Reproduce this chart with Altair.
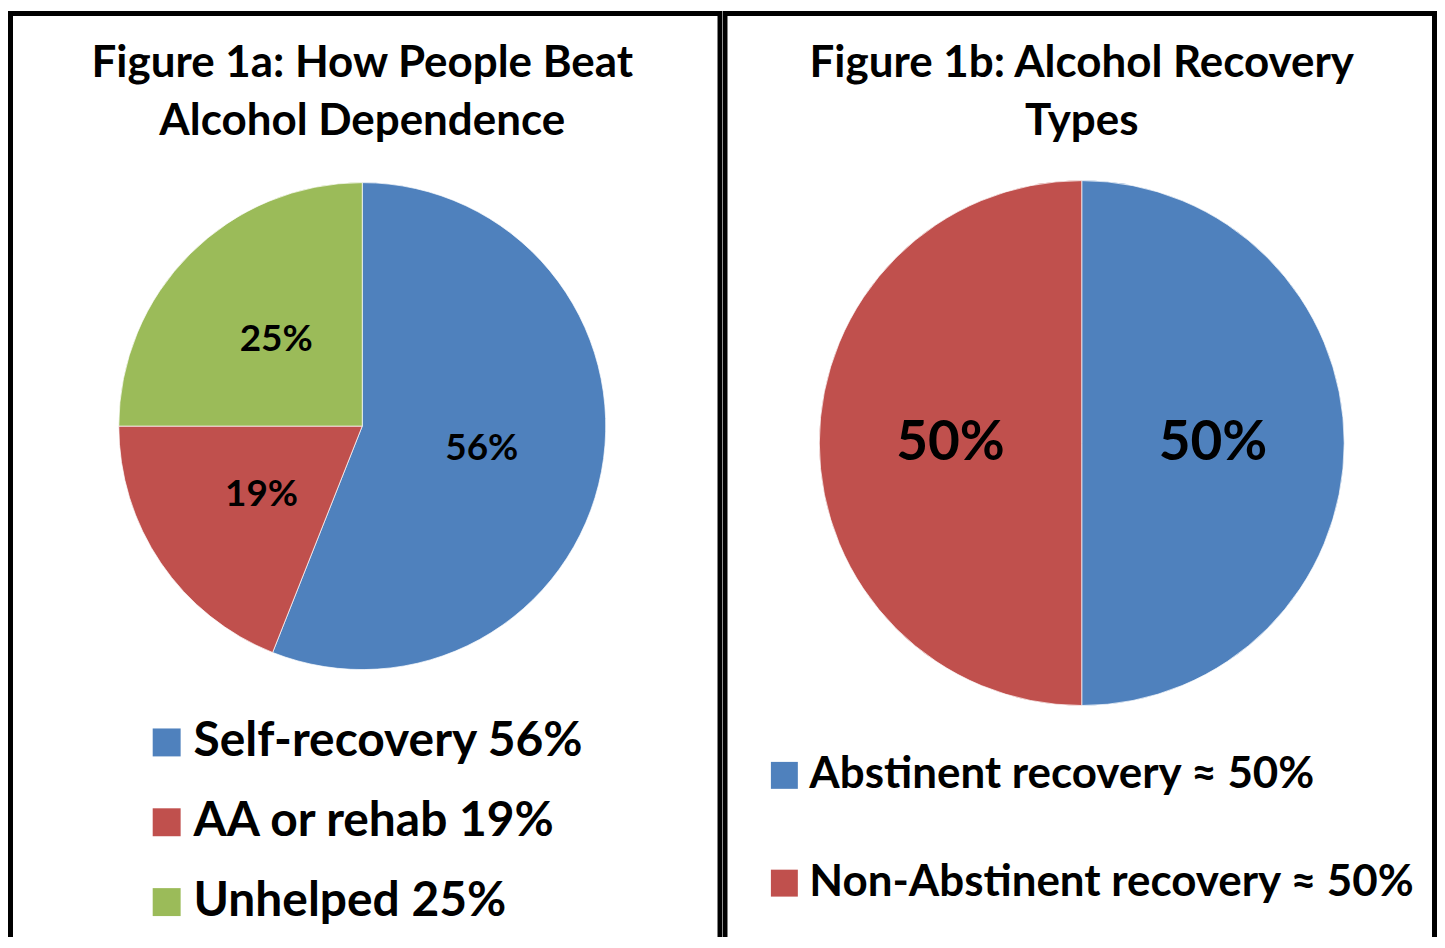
import altair as alt
import pandas as pd

# ---- data ----
cats_a = ["Self-recovery", "AA or rehab", "Unhelped"]
vals_a = [56, 19, 25]
colors_a = ["#4F81BD", "#C0504D", "#9BBB59"]
title_a = ["Figure 1a: How People Beat", "Alcohol Dependence"]

cats_b = ["Abstinent recovery", "Non-Abstinent recovery"]
vals_b = [50, 50]
colors_b = ["#4F81BD", "#C0504D"]
title_b = ["Figure 1b: Alcohol Recovery", "Types"]

FONT = "Lato"
W, H = 716, 930

df_a = pd.DataFrame({
    "idx": range(len(cats_a)),
    "value": vals_a,
    "legend": [f"{c} {v}%" for c, v in zip(cats_a, vals_a)],
    "label": [f"{v}%" for v in vals_a],
})
df_b = pd.DataFrame({
    "idx": range(len(cats_b)),
    "value": vals_b,
    "legend": [f"{c} \u2248 {v}%" for c, v in zip(cats_b, vals_b)],
    "label": [f"{v}%" for v in vals_b],
})


def panel(df, colors, title_lines, cx, cy, r, label_size, leg_x, leg_y,
          leg_font, leg_sym, leg_row, leg_off):
    base = alt.Chart(df)
    border = base.mark_rect(
        fill=None, stroke="black", strokeWidth=5, clip=True
    ).encode(
        x=alt.value(2.5), x2=alt.value(W - 2.5),
        y=alt.value(4.5), y2=alt.value(H + 40),
    ).transform_filter("datum.idx == 0")

    color = alt.Color(
        "legend:N",
        scale=alt.Scale(domain=list(df["legend"]), range=colors),
        legend=alt.Legend(
            title=None, orient="none", legendX=leg_x, legendY=leg_y,
            symbolType="square", symbolSize=leg_sym * leg_sym,
            symbolStrokeWidth=0, symbolOpacity=1,
            labelFont=FONT, labelFontWeight="bold", labelFontSize=leg_font,
            labelColor="black", labelOffset=leg_off, rowPadding=leg_row,
            labelLimit=0, padding=0,
        ),
    )
    arcs = base.mark_arc(
        outerRadius=r, stroke="white", strokeWidth=1, strokeOpacity=0.7
    ).encode(
        theta=alt.Theta("value:Q", stack=True),
        color=color,
        order=alt.Order("idx:Q"),
        x=alt.value(cx), y=alt.value(cy),
    )
    labels = base.mark_text(
        radius=r / 2, font=FONT, fontWeight="bold", fontSize=label_size,
        color="black",
    ).encode(
        theta=alt.Theta("value:Q", stack=True),
        order=alt.Order("idx:Q"),
        text="label:N",
        x=alt.value(cx), y=alt.value(cy),
    )
    tdf = pd.DataFrame({"line": ["\n".join(title_lines)]})
    titles = alt.Chart(tdf).mark_text(
        font=FONT, fontWeight="bold", fontSize=44, color="black",
        baseline="middle", lineBreak="\n", lineHeight=58,
    ).encode(
        text="line:N",
        x=alt.value(cx),
        y=alt.value(55),
    )
    return alt.layer(border, arcs, labels, titles).properties(width=W, height=H)


left = panel(df_a, colors_a, title_a, 355, 418, 244, 37,
             135, 711, 48, 28, 32, 3)
right = panel(df_b, colors_b, title_b, 360, 435, 263, 55,
              40, 746, 44, 27, 64, 3)

chart = alt.hconcat(left, right, spacing=0).resolve_scale(
    color="independent"
).configure_view(stroke=None).properties(
    padding={"left": 0, "top": 0, "right": 0, "bottom": 0},
    background="white",
)

chart.save("out.html", embed_options={"renderer": "svg", "actions": False})
